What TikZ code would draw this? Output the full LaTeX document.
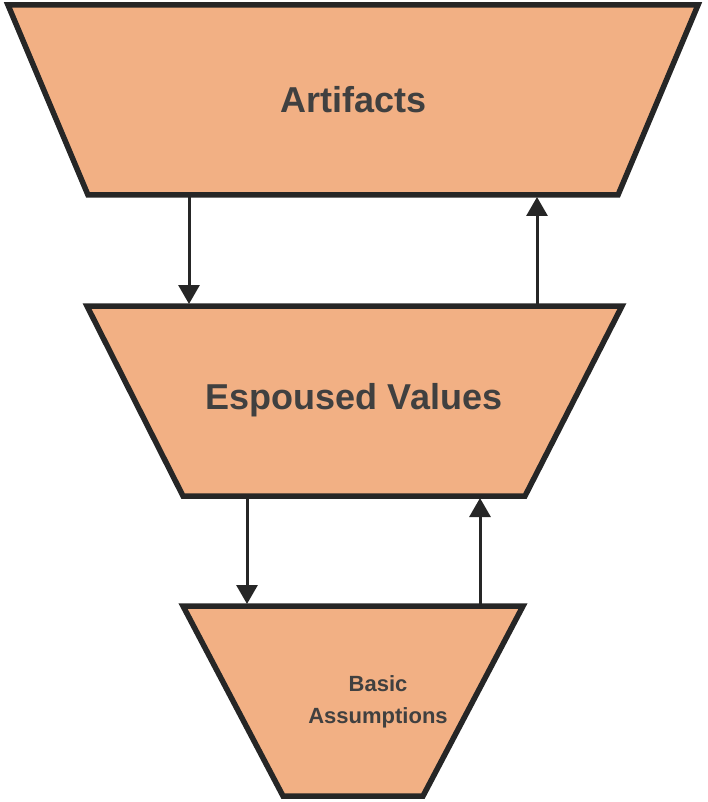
\documentclass[tikz,border=0pt]{standalone}
\usepackage{fontspec}
\setmainfont{Liberation Sans}
\usetikzlibrary{arrows.meta}
\definecolor{peach}{HTML}{F2B084}
\definecolor{outline}{HTML}{262626}
\definecolor{txt}{HTML}{404040}
\tikzset{
  layer/.style={fill=peach, draw=outline, line width=5.5pt, line join=miter},
  lbl/.style={text=txt, align=center},
  conn/.style={draw=outline, line width=3pt, -{Triangle[length=19pt,width=21pt]}}
}
\begin{document}
\begin{tikzpicture}[x=1pt,y=-1pt]
\useasboundingbox (0,0) rectangle (707,802);
% top layer
\coordinate (a1) at (8,5); \coordinate (a2) at (698,5);
\coordinate (a3) at (618,195); \coordinate (a4) at (88,195);
\draw[layer] (a1) -- (a2) -- (a3) -- (a4) -- cycle;
% middle layer
\coordinate (b1) at (87,306); \coordinate (b2) at (622,306);
\coordinate (b3) at (525,496); \coordinate (b4) at (183,496);
\draw[layer] (b1) -- (b2) -- (b3) -- (b4) -- cycle;
% bottom layer
\coordinate (c1) at (183,606); \coordinate (c2) at (523,606);
\coordinate (c3) at (423,796); \coordinate (c4) at (283,796);
\draw[layer] (c1) -- (c2) -- (c3) -- (c4) -- cycle;
% labels
\node[lbl, font=\bfseries\fontsize{36}{40}\selectfont] (art) at (354,100) {Artifacts};
\node[lbl, font=\bfseries\fontsize{36}{40}\selectfont] (esp) at (354,400) {Espoused Values};
\node[lbl, font=\bfseries\fontsize{22}{32}\selectfont] (bas) at (378,702) {Basic\\Assumptions};
% connector endpoints
\coordinate (d1s) at (189,197); \coordinate (d1e) at (189,304);
\coordinate (u1s) at (537,304); \coordinate (u1e) at (537,197);
\coordinate (d2s) at (247,498); \coordinate (d2e) at (247,604);
\coordinate (u2s) at (480,604); \coordinate (u2e) at (480,498);
\draw[conn] (d1s) -- (d1e);
\draw[conn] (u1s) -- (u1e);
\draw[conn] (d2s) -- (d2e);
\draw[conn] (u2s) -- (u2e);
\end{tikzpicture}
\end{document}
